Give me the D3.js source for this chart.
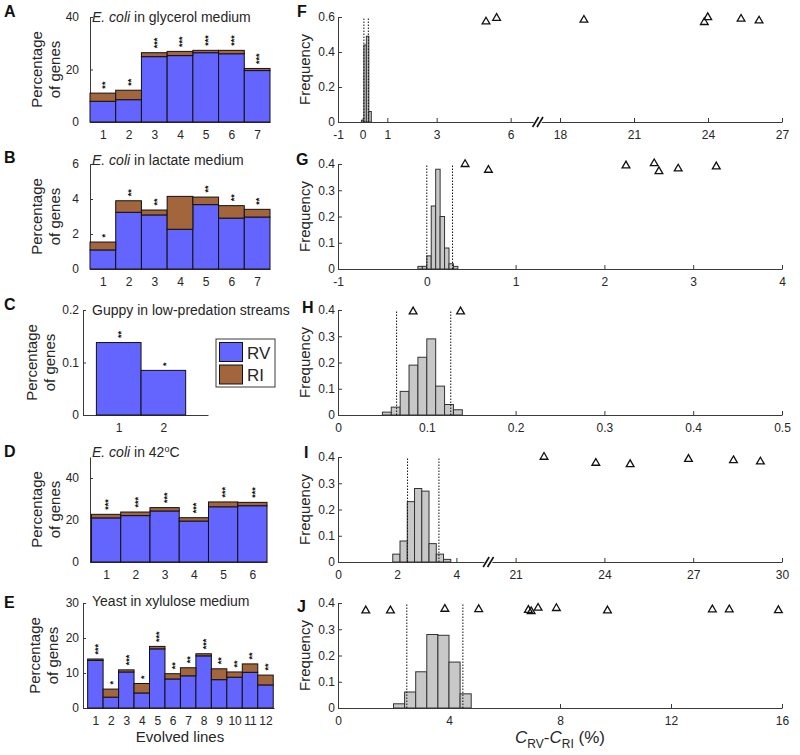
<!DOCTYPE html>
<html><head><meta charset="utf-8">
<script src="https://cdn.jsdelivr.net/npm/d3@7"></script>
<style>body{margin:0;background:#fff} text{font-family:"Liberation Sans",Arial,Helvetica,sans-serif}</style>
</head><body><svg id="c" width="800" height="755"></svg>
<script>
// ---------------- DATA ----------------
// Panels A-E: percentage of genes (RV = reversion, RI = reinforcement), significance stars
const linesA = [1,2,3,4,5,6,7];
const rvA = [7.9, 8.5, 24.9, 25.3, 26.4, 26.0, 19.6];
const riA = [3.1, 3.6, 1.5, 1.6, 0.9, 1.3, 0.8];
const starsA = [2,2,3,3,3,3,3];

const linesB = [1,2,3,4,5,6,7];
const rvB = [1.09, 3.24, 3.09, 2.27, 3.68, 2.91, 2.97];
const riB = [0.45, 0.66, 0.28, 1.88, 0.43, 0.71, 0.44];
const starsB = [1,2,2,0,2,2,2];

const linesC = [1,2];
const rvC = [0.138, 0.085];
const riC = [0, 0];
const starsC = [2,1];

const linesD = [1,2,3,4,5,6];
const rvD = [21.0, 22.1, 24.3, 19.5, 26.3, 26.8];
const riD = [1.7, 1.7, 1.6, 1.6, 2.3, 1.6];
const starsD = [3,3,3,3,3,3];

const linesE = [1,2,3,4,5,6,7,8,9,10,11,12];
const rvE = [13.6, 3.1, 10.3, 4.3, 16.9, 8.3, 9.2, 14.9, 8.1, 8.8, 10.2, 6.6];
const riE = [0.4, 2.3, 0.6, 2.7, 0.7, 1.5, 2.3, 0.6, 3.1, 1.5, 2.4, 2.8];
const starsE = [3,1,3,1,3,2,2,3,2,2,2,2];

const ticksA = [0,20,40], ticksB = [0,2,4,6], ticksC = [0,0.1,0.2], ticksD = [0,20,40], ticksE = [0,10,20,30];

// Panels F-J: null distributions (histograms), confidence bounds, observed values
const binStartF = -0.05, binWidthF = 0.1;
const freqF = [0.01, 0.44, 0.49, 0.06];
const boundsF = [0.05, 0.23];
const obsXF = [5.0, 5.43, 18.97, 23.85, 23.99, 25.34, 26.07];
const obsYF = [0.573, 0.594, 0.583, 0.570, 0.598, 0.589, 0.579];
const xTicksF = [-1,0,1,3,6,18,21,24,27];

const binStartG = -0.1, binWidthG = 0.05;
const freqG = [0.01, 0.01, 0.05, 0.24, 0.38, 0.20, 0.08, 0.02, 0.01];
const boundsG = [0.0, 0.29];
const obsXG = [0.431, 0.694, 2.243, 2.561, 2.614, 2.831, 3.26];
const obsYG = [0.399, 0.377, 0.394, 0.402, 0.372, 0.382, 0.390];
const xTicksG = [-1,0,1,2,3,4];

const binStartH = 0.05, binWidthH = 0.01;
const freqH = [0.011, 0.03, 0.09, 0.19, 0.22, 0.29, 0.11, 0.04, 0.02];
const boundsH = [0.066, 0.127];
const obsXH = [0.0846, 0.138];
const obsYH = [0.394, 0.394];
const xTicksH = [0,0.1,0.2,0.3,0.4,0.5];

const binStartI = 1.85, binWidthI = 0.245;
const freqI = [0.03, 0.08, 0.23, 0.28, 0.27, 0.07, 0.03, 0.01];
const boundsI = [2.35, 3.41];
const obsXI = [21.96, 23.71, 24.87, 26.84, 28.36, 29.27];
const obsYI = [0.400, 0.377, 0.372, 0.392, 0.387, 0.382];
const xTicksI = [0,2,4,21,24,27,30];

const binStartJ = 2.0, binWidthJ = 0.4;
const freqJ = [0.016, 0.061, 0.138, 0.280, 0.277, 0.175, 0.054];
const boundsJ = [2.48, 4.5];
const obsXJ = [1.0, 1.89, 3.85, 5.07, 6.86, 6.96, 7.21, 7.87, 9.71, 13.49, 14.1, 15.87];
const obsYJ = [0.371, 0.371, 0.377, 0.376, 0.373, 0.368, 0.381, 0.380, 0.371, 0.375, 0.375, 0.372];
const xTicksJ = [0,4,8,12,16];

const freqTicks04 = [0,0.1,0.2,0.3,0.4], freqTicks06 = [0,0.2,0.4,0.6];

// ---------------- DRAWING ----------------
const svg = d3.select("#c");
const TXT = "#262626", AX = "#3a3a3a";
const BLUE = "#6464ff", BROWN = "#a2653c";
const FONT = '"Liberation Sans",Arial,Helvetica,sans-serif';

function styleAxis(g){
  g.attr("font-family", FONT).attr("font-size", 12);
  g.select(".domain").attr("stroke", AX).attr("stroke-width", 1);
  g.selectAll(".tick line").attr("stroke", AX);
  g.selectAll(".tick text").attr("fill", TXT);
}

function barPanel(c){
  const x = d3.scaleLinear().domain(c.xdom).range([c.left, c.right]);
  const y = d3.scaleLinear().domain(c.ydom).range([c.bottom, c.top]);
  const g = svg.append("g");
  const bw = x(1.5) - x(0.5);
  // axes (under bars)
  g.append("g").attr("transform", `translate(0,${c.bottom})`)
    .call(d3.axisBottom(x).tickValues(c.lines).tickFormat(d3.format("d")).tickSizeInner(-3).tickSizeOuter(0).tickPadding(8))
    .call(styleAxis);
  g.append("g").attr("transform", `translate(${c.left},0)`)
    .call(d3.axisLeft(y).tickValues(c.yticks).tickFormat(d => String(d)).tickSizeInner(-3).tickSizeOuter(0).tickPadding(c.left - 79))
    .call(styleAxis);
  g.selectAll(".rv").data(c.lines).join("rect")
    .attr("x", d => x(d) - bw/2).attr("width", bw)
    .attr("y", (d,i) => y(c.rv[i])).attr("height", (d,i) => y(0) - y(c.rv[i]))
    .attr("fill", BLUE).attr("stroke", "#111").attr("stroke-width", 1);
  g.selectAll(".ri").data(c.lines.filter((d,i) => c.ri[i] > 0)).join("rect")
    .attr("x", d => x(d) - bw/2).attr("width", bw)
    .attr("y", d => { const i = c.lines.indexOf(d); return y(c.rv[i] + c.ri[i]); })
    .attr("height", d => { const i = c.lines.indexOf(d); return y(c.rv[i]) - y(c.rv[i] + c.ri[i]); })
    .attr("fill", BROWN).attr("stroke", "#111").attr("stroke-width", 1);
  // significance stars: one rotated "***" string per bar (stacked vertically)
  const fs = 9;
  g.selectAll(".st").data(c.lines.filter((d,i) => c.stars[i] > 0)).join("text")
    .attr("transform", d => { const i = c.lines.indexOf(d);
      return `translate(${x(d) + 0.58*fs},${y(c.rv[i] + c.ri[i]) - 4.5}) rotate(-90)`; })
    .attr("font-size", fs).attr("font-weight", "bold").attr("fill", "#111")
    .text(d => "*".repeat(c.stars[c.lines.indexOf(d)]));
  // y label
  const cy = (c.top + c.bottom)/2;
  g.append("text").attr("transform", `translate(${c.labX},${cy}) rotate(-90)`)
    .attr("text-anchor", "middle").attr("font-size", 15).attr("fill", TXT).text("Percentage");
  g.append("text").attr("transform", `translate(${c.labX+18},${cy}) rotate(-90)`)
    .attr("text-anchor", "middle").attr("font-size", 15).attr("fill", TXT).text("of genes");
  // title
  const t = g.append("text").attr("x", 92).attr("y", c.titleY).attr("font-size", 14).attr("fill", TXT);
  c.title.forEach(p => {
    const ts = t.append("tspan").text(p.t);
    if (p.i) ts.attr("font-style", "italic");
    if (p.sup) ts.attr("font-size", 9).attr("dy", -5);
    if (p.after) ts.attr("dy", 5);
  });
  return {x, y};
}

barPanel({left:90, right:270, top:17, bottom:122, xdom:[0.5,7.5], ydom:[0,40], yticks:ticksA,
  lines:linesA, rv:rvA, ri:riA, stars:starsA, labX:42, titleY:22,
  title:[{t:"E. coli", i:true},{t:" in glycerol medium"}]});
barPanel({left:90, right:270, top:164, bottom:269, xdom:[0.5,7.5], ydom:[0,6], yticks:ticksB,
  lines:linesB, rv:rvB, ri:riB, stars:starsB, labX:42, titleY:165,
  title:[{t:"E. coli", i:true},{t:" in lactate medium"}]});
barPanel({left:83, right:208, top:310, bottom:415, xdom:[0.2,3.0], ydom:[0,0.2], yticks:ticksC,
  lines:linesC, rv:rvC, ri:riC, stars:starsC, labX:37, titleY:315,
  title:[{t:"Guppy in low-predation streams"}]});
barPanel({left:90, right:267, top:457, bottom:562, xdom:[0.45,6.5], ydom:[0,50], yticks:ticksD,
  lines:linesD, rv:rvD, ri:riD, stars:starsD, labX:42, titleY:457,
  title:[{t:"E. coli", i:true},{t:" in 42"},{t:"o", sup:true},{t:"C", after:true}]});
barPanel({left:83, right:274, top:603, bottom:708, xdom:[0.2,12.55], ydom:[0,30], yticks:ticksE,
  lines:linesE, rv:rvE, ri:riE, stars:starsE, labX:40, titleY:606,
  title:[{t:"Yeast in xylulose medium"}]});

svg.append("text").attr("x", 180).attr("y", 742).attr("text-anchor", "middle")
  .attr("font-size", 15).attr("fill", TXT).text("Evolved lines");

// legend
const lg = svg.append("g");
lg.append("rect").attr("x", 216).attr("y", 339).attr("width", 59).attr("height", 48)
  .attr("fill", "#fff").attr("stroke", AX).attr("stroke-width", 1);
[["RV", BLUE], ["RI", BROWN]].forEach((d, i) => {
  lg.append("rect").attr("x", 219.5).attr("y", 342.5 + i*22.5).attr("width", 23).attr("height", 19)
    .attr("fill", d[1]).attr("stroke", "#111").attr("stroke-width", 1);
  lg.append("text").attr("x", 247).attr("y", 358.5 + i*22.5).attr("font-size", 17).attr("fill", TXT).text(d[0]);
});

// histogram panels
function histPanel(c){
  const x = d3.scaleLinear().domain(c.xdomDisp).range([338, 782]);
  const y = d3.scaleLinear().domain(c.ydom).range([c.bottom, c.top]);
  const X = v => x(c.disp(v));
  const g = svg.append("g");
  g.append("g").attr("transform", `translate(0,${c.bottom})`)
    .call(d3.axisBottom(x).tickValues(c.xticks.map(c.disp)).tickFormat((d,i) => String(c.xticks[i]))
      .tickSizeInner(-4).tickSizeOuter(0).tickPadding(8))
    .call(styleAxis);
  g.append("g").attr("transform", `translate(338,0)`)
    .call(d3.axisLeft(y).tickValues(c.yticks).tickFormat(d => String(d)).tickSizeInner(-4).tickSizeOuter(0).tickPadding(3))
    .call(styleAxis);
  g.selectAll(".hb").data(c.freq).join("rect")
    .attr("x", (d,i) => X(c.binStart + i*c.binWidth))
    .attr("width", (d,i) => X(c.binStart + (i+1)*c.binWidth) - X(c.binStart + i*c.binWidth))
    .attr("y", d => y(d)).attr("height", d => y(0) - y(d))
    .attr("fill", "#c8c8c8").attr("stroke", "#333").attr("stroke-width", 1);
  g.selectAll(".bd").data(c.bounds).join("line")
    .attr("x1", d => X(d)).attr("x2", d => X(d)).attr("y1", y(0)).attr("y2", y(c.ydom[1]))
    .attr("stroke", "#111").attr("stroke-width", 1).attr("stroke-dasharray", "1.5,1.5");
  const tri = d3.symbol(d3.symbolTriangle, 26);
  g.selectAll(".ob").data(c.obsX).join("path")
    .attr("d", tri).attr("transform", (d,i) => `translate(${X(d)},${y(c.obsY[i])})`)
    .attr("fill", "none").attr("stroke", "#111").attr("stroke-width", 1.3);
  if (c.brk !== undefined) {
    const bx = x(c.brk), by = c.bottom;
    g.append("rect").attr("x", bx-4).attr("y", by-2).attr("width", 8).attr("height", 4).attr("fill", "#fff");
    [-2.2, 2.2].forEach(o => g.append("line")
      .attr("x1", bx + o - 3).attr("y1", by + 5).attr("x2", bx + o + 3).attr("y2", by - 5)
      .attr("stroke", "#111").attr("stroke-width", 1.6));
  }
  g.append("text").attr("transform", `translate(310,${(c.top + c.bottom)/2}) rotate(-90)`)
    .attr("text-anchor", "middle").attr("font-size", 15).attr("fill", TXT).text("Frequency");
}

histPanel({top:17, bottom:122, ydom:[0,0.6], yticks:freqTicks06, xdomDisp:[-1,17], disp: v => v > 10 ? v - 10 : v,
  xticks:xTicksF, binStart:binStartF, binWidth:binWidthF, freq:freqF, bounds:boundsF, obsX:obsXF, obsY:obsYF, brk:7.1});
histPanel({top:164, bottom:269, ydom:[0,0.4], yticks:freqTicks04, xdomDisp:[-1,4], disp: v => v,
  xticks:xTicksG, binStart:binStartG, binWidth:binWidthG, freq:freqG, bounds:boundsG, obsX:obsXG, obsY:obsYG});
histPanel({top:310, bottom:415, ydom:[0,0.4], yticks:freqTicks04, xdomDisp:[0,0.5], disp: v => v,
  xticks:xTicksH, binStart:binStartH, binWidth:binWidthH, freq:freqH, bounds:boundsH, obsX:obsXH, obsY:obsYH});
histPanel({top:457, bottom:562, ydom:[0,0.4], yticks:freqTicks04, xdomDisp:[0,15], disp: v => v > 10 ? v - 15 : v,
  xticks:xTicksI, binStart:binStartI, binWidth:binWidthI, freq:freqI, bounds:boundsI, obsX:obsXI, obsY:obsYI, brk:5.08});
histPanel({top:603, bottom:708, ydom:[0,0.4], yticks:freqTicks04, xdomDisp:[0,16], disp: v => v,
  xticks:xTicksJ, binStart:binStartJ, binWidth:binWidthJ, freq:freqJ, bounds:boundsJ, obsX:obsXJ, obsY:obsYJ});

// x label for J
const xl = svg.append("text").attr("x", 560).attr("y", 743).attr("text-anchor", "middle").attr("font-size", 17).attr("fill", TXT);
xl.append("tspan").attr("font-style", "italic").text("C");
xl.append("tspan").attr("font-size", 12).attr("dy", 5).text("RV");
xl.append("tspan").attr("dy", -5).text("-");
xl.append("tspan").attr("font-style", "italic").text("C");
xl.append("tspan").attr("font-size", 12).attr("dy", 5).text("RI");
xl.append("tspan").attr("dy", -5).text(" (%)");

// panel letters
const letters = [["A",4,17],["B",4,163],["C",4,310],["D",4,457],["E",4,608],
                 ["F",297,17],["G",296,165],["H",302,313],["I",304,458],["J",297,612]];
svg.selectAll(".pl").data(letters).join("text")
  .attr("x", d => d[1]).attr("y", d => d[2]).attr("font-size", 16).attr("font-weight", "bold")
  .attr("fill", "#111").text(d => d[0]);
</script></body></html>
